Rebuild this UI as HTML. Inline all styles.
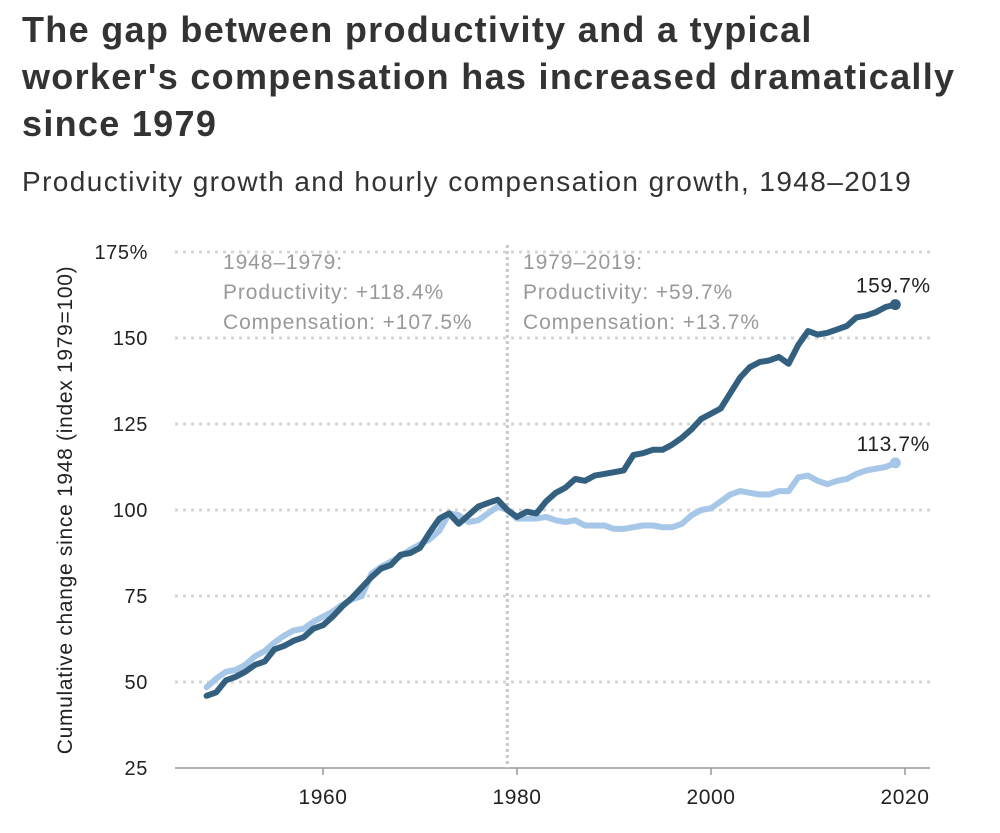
<!DOCTYPE html>
<html><head><meta charset="utf-8"><style>
body{margin:0;background:#fff;font-family:"Liberation Sans",sans-serif;color:#333;}
#wrap{position:relative;width:1000px;height:833px;overflow:hidden;}
h1{position:absolute;left:22px;top:6px;margin:0;font-size:36px;line-height:47px;font-weight:bold;color:#333;letter-spacing:1.3px;white-space:nowrap;}
h2{position:absolute;left:22px;top:166px;margin:0;font-size:28px;font-weight:normal;color:#333;letter-spacing:1.4px;white-space:nowrap;}
svg{position:absolute;left:0;top:0;}
</style></head><body><div id="wrap">
<h1>The gap between productivity and a typical<br>worker's compensation has increased dramatically<br>since 1979</h1>
<h2>Productivity growth and hourly compensation growth, 1948–2019</h2>
<svg id="c" width="1000" height="833"></svg>
</div>
<script>
const years=[];for(let y=1948;y<=2019;y++)years.push(y);
const productivity=[46,47,50.5,51.5,53,55,56,59.5,60.5,62,63,65.5,66.5,69,72,74.5,77.5,80.5,83,84,87,87.5,89,93.5,97.5,99,96,98.5,101,102,103,100,98,99.5,99,102.5,105,106.5,109,108.5,110,110.5,111,111.5,116,116.5,117.5,117.5,119,121,123.5,126.5,128,129.5,134,138.5,141.5,143,143.5,144.5,142.5,148,152,151,151.5,152.5,153.5,156,156.5,157.5,159,159.7];
const compensation=[48.5,51,53,53.5,55,57.5,59,61.5,63.5,65,65.5,67.5,69,70.5,72.5,74,75,81.5,83.5,85,86.5,88.5,90,91.5,94,99,98.5,96.5,97,99,101,100,97.5,97.5,97.5,98,97,96.5,97,95.5,95.5,95.5,94.5,94.5,95,95.5,95.5,95,95,96,98.5,100,100.5,102.5,104.5,105.5,105,104.5,104.5,105.5,105.5,109.5,110,108.5,107.5,108.5,109,110.5,111.5,112,112.5,113.7];
const yTicks=[25,50,75,100,125,150,175];
const yTickLabels=["25","50","75","100","125","150","175%"];
const xTicks=[1960,1980,2000,2020];
const NS="http://www.w3.org/2000/svg";
const svg=document.getElementById('c');
const X=y=>323+(y-1960)*9.7;
const Y=v=>510-(v-100)*3.44;
function mk(t,a,p){const e=document.createElementNS(NS,t);for(const k in a)e.setAttribute(k,a[k]);(p||svg).appendChild(e);return e;}
yTicks.forEach((v,i)=>{
 if(v>25){const l=mk('line',{x1:175,x2:930,y1:Y(v),y2:Y(v),stroke:'#d6d6d6','stroke-width':3,'stroke-dasharray':'3 5'});
 
 }
 const t=mk('text',{x:148,y:Y(v)+7,'text-anchor':'end','font-size':20,'letter-spacing':0.6,fill:'#222'});t.textContent=yTickLabels[i];
 
 
});
const ax=mk('line',{x1:175,x2:930,y1:768,y2:768,stroke:'#999','stroke-width':1.5});


xTicks.forEach(v=>{
 const tk=mk('line',{x1:X(v),x2:X(v),y1:768,y2:775,stroke:'#999','stroke-width':1.5});
 
 
 const t=mk('text',{x:X(v),y:804,'text-anchor':'middle','font-size':21,'letter-spacing':0.6,fill:'#222'});t.textContent=v;
 
 
});
const vl=mk('line',{x1:X(1979),x2:X(1979),y1:245,y2:768,stroke:'#c8c8c8','stroke-width':3,'stroke-dasharray':'3 3'});


const yt=mk('text',{x:0,y:0,transform:'translate(72,510) rotate(-90)','text-anchor':'middle','font-size':21,'letter-spacing':0.7,fill:'#222'});
yt.textContent='Cumulative change since 1948 (index 1979=100)';


function anno(x,lines,name){lines.forEach((s,i)=>{const t=mk('text',{x:x,y:269+i*30,'font-size':21,'letter-spacing':0.9,fill:'#999'});t.textContent=s;
 
 });}
anno(223,['1948–1979:','Productivity: +118.4%','Compensation: +107.5%'],'annotation-1948-1979');
anno(523,['1979–2019:','Productivity: +59.7%','Compensation: +13.7%'],'annotation-1979-2019');
function series(vals,color,name){
 const d=vals.map((v,i)=>(i?'L':'M')+X(years[i]).toFixed(1)+','+Y(v).toFixed(1)).join('');
 const p=mk('path',{d:d,fill:'none',stroke:color,'stroke-width':6,'stroke-linejoin':'round','stroke-linecap':'round'});
 
 
 const n=vals.length-1;
 const c=mk('circle',{cx:X(years[n]),cy:Y(vals[n]),r:5.5,fill:color});
 
 
 const t=mk('text',{x:X(years[n])-2,y:Y(vals[n])-12,'text-anchor':'middle','font-size':21,'letter-spacing':0.6,fill:'#222'});
 t.textContent=vals[n].toFixed(1)+'%';
 
 
}
series(compensation,'#a6c7e8','compensation');
series(productivity,'#33607f','productivity');
</script></body></html>
